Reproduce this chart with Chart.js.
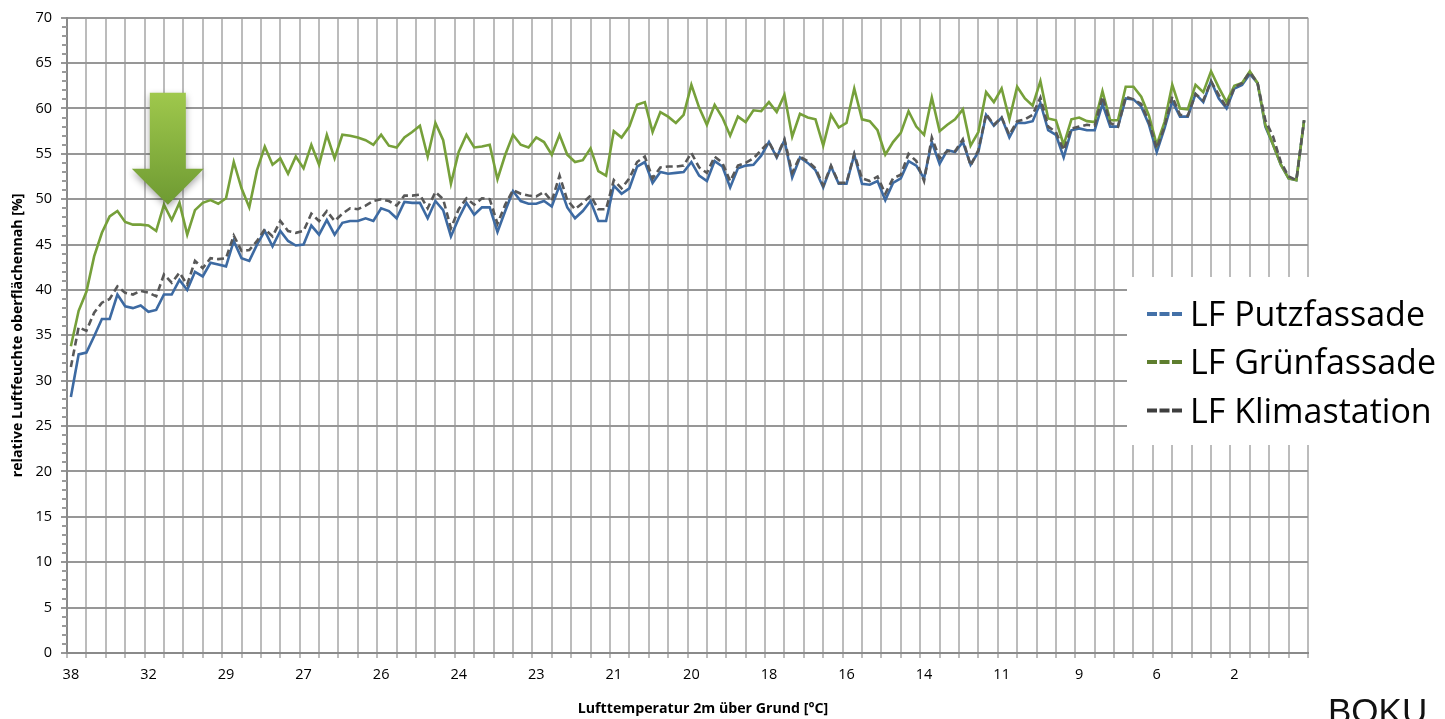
<!DOCTYPE html>
<html>
<head>
<meta charset="utf-8">
<script src="https://cdn.jsdelivr.net/npm/chart.js@4.4.1/dist/chart.umd.min.js"></script>
<style>
  html, body { margin: 0; padding: 0; background: #ffffff; }
  #wrap { position: relative; width: 1445px; height: 719px; }
</style>
</head>
<body>
<div id="wrap"><canvas id="c" width="1445" height="719"></canvas></div>
<script>
// Temperature labels shown on the x axis (one every 10 measurements, warm to cold)
const tickLabels = ['38','32','29','27','26','24','23','21','20','18','16','14','11','9','6','2'];
const labelEvery = 10;

// Relative humidity close to the surface [%]
const putzfassade = [
  28.2,32.9,33.1,34.9,36.8,36.8,39.5,38.2,38.0,38.3,
  37.6,37.8,39.5,39.5,41.1,40.0,42.0,41.5,43.0,42.8,
  42.6,45.4,43.5,43.2,45.0,46.5,44.8,46.5,45.4,44.9,
  45.0,47.1,46.1,47.7,46.1,47.4,47.6,47.6,47.9,47.6,
  49.0,48.7,47.9,49.7,49.6,49.6,47.9,49.8,48.8,45.9,
  47.9,49.6,48.3,49.1,49.1,46.4,48.7,50.9,49.8,49.5,
  49.5,49.8,49.2,51.5,49.1,47.9,48.7,49.8,47.6,47.6,
  51.5,50.6,51.2,53.6,54.1,51.8,53.0,52.8,52.9,53.0,
  54.1,52.6,52.0,54.2,53.6,51.3,53.4,53.7,53.8,54.8,
  56.3,54.6,56.5,52.4,54.6,54.0,53.2,51.3,53.6,51.7,
  51.7,54.9,51.7,51.6,52.0,49.9,51.8,52.3,54.2,53.7,
  52.3,56.3,53.9,55.4,55.2,56.3,53.8,55.2,59.3,58.1,
  59.0,56.8,58.4,58.4,58.6,60.6,57.6,57.1,54.6,57.6,
  57.8,57.6,57.6,60.5,58.0,58.0,61.1,61.0,60.2,58.2,
  55.2,57.8,60.8,59.1,59.1,61.6,60.7,63.0,61.1,60.0,
  62.2,62.6,63.8,62.8,58.0,56.0,53.8,52.3,52.1,58.7
];
const gruenfassade = [
  33.8,37.7,39.8,43.7,46.3,48.1,48.7,47.5,47.2,47.2,
  47.1,46.5,49.4,47.7,49.6,46.1,48.8,49.6,49.9,49.5,
  50.1,54.1,51.2,49.1,53.2,55.8,53.8,54.5,52.8,54.7,
  53.4,56.0,53.8,57.1,54.5,57.1,57.0,56.8,56.5,56.0,
  57.1,55.9,55.7,56.8,57.4,58.1,54.7,58.4,56.5,51.7,
  55.2,57.1,55.7,55.8,56.0,52.2,54.9,57.1,56.0,55.7,
  56.8,56.3,54.9,57.1,54.9,54.1,54.3,55.6,53.1,52.6,
  57.5,56.8,58.0,60.4,60.7,57.4,59.6,59.1,58.4,59.3,
  62.6,60.1,58.2,60.4,59.0,57.0,59.1,58.5,59.8,59.7,
  60.7,59.6,61.5,56.9,59.4,59.0,58.8,55.9,59.3,57.9,
  58.4,62.2,58.8,58.6,57.6,54.9,56.3,57.3,59.7,58.0,
  57.1,61.2,57.5,58.2,58.8,59.9,55.9,57.4,61.8,60.7,
  62.2,58.8,62.4,61.1,60.3,63.0,58.9,58.7,56.0,58.8,
  59.0,58.6,58.5,61.9,58.7,58.7,62.4,62.4,61.3,59.2,
  56.0,58.5,62.6,60.0,59.9,62.6,61.8,64.1,62.3,60.7,
  62.5,62.8,64.1,62.8,58.2,56.0,53.8,52.3,52.1,58.7
];
const klimastation = [
  31.5,35.9,35.5,37.5,38.6,39.0,40.4,39.7,39.5,39.9,
  39.7,39.3,41.7,40.8,41.9,40.6,43.2,42.4,43.5,43.4,
  43.5,46.0,44.3,44.4,45.4,46.7,45.9,47.6,46.5,46.3,
  46.5,48.4,47.6,48.7,47.6,48.4,49.0,48.9,49.3,49.8,
  50.0,49.8,49.3,50.4,50.4,50.5,49.0,50.8,50.0,46.8,
  48.9,50.1,49.4,50.1,50.0,47.3,49.4,51.0,50.6,50.4,
  50.3,50.8,49.8,52.6,49.9,48.9,49.6,50.4,48.9,48.9,
  52.1,51.2,52.3,54.1,54.7,52.3,53.5,53.6,53.6,53.7,
  55.1,53.5,52.9,54.7,54.0,52.0,53.7,54.0,54.5,55.4,
  56.3,54.7,56.6,52.9,54.7,54.2,53.4,51.5,53.7,51.8,
  51.8,55.0,52.3,52.0,52.5,50.6,52.3,52.7,55.0,54.2,
  52.0,56.8,54.5,55.3,55.3,56.6,53.7,55.4,59.4,58.2,
  59.0,57.1,58.6,58.8,59.3,61.2,58.0,57.4,55.4,57.8,
  58.0,58.2,58.1,61.3,58.4,58.0,61.3,61.0,60.5,58.5,
  55.6,58.0,61.3,59.3,59.2,61.6,60.9,63.0,61.5,60.1,
  62.3,62.8,64.0,62.8,58.7,56.9,54.1,52.5,52.1,58.7
];

const seriesNames = ['LF Putzfassade', 'LF Grünfassade', 'LF Klimastation'];
const yTitle = 'relative Luftfeuchte oberflächennah [%]';
const xTitle = 'Lufttemperatur 2m über Grund [°C]';
const footerText = 'BOKU';

const toPoints = arr => arr.map((v, i) => ({ x: i, y: v }));
const nPoints = putzfassade.length;
const gridStep = 2.5;        // vertical grid spacing in measurements
const FONT = '"Open Sans", "DejaVu Sans", sans-serif';

// Minor ticks on the value axis, title texts, legend, arrow and footer
const decorPlugin = {
  id: 'decor',
  afterDraw(chart) {
    const ctx = chart.ctx;
    const ys = chart.scales.y, xs = chart.scales.x;
    const area = chart.chartArea;
    ctx.save();

    // minor ticks (every 1 %)
    ctx.strokeStyle = '#9a9a9a';
    ctx.lineWidth = 2;
    for (let v = ys.min; v <= ys.max; v += 1) {
      if (v % 5 === 0) continue;
      const py = Math.round(ys.getPixelForValue(v));
      ctx.beginPath();
      ctx.moveTo(area.left - 5, py);
      ctx.lineTo(area.left, py);
      ctx.stroke();
    }

    // axis titles
    ctx.fillStyle = '#000';
    ctx.font = 'bold 14.2px ' + FONT;
    ctx.textAlign = 'center';
    ctx.textBaseline = 'middle';
    ctx.fillText(xTitle, 703, 709);
    ctx.save();
    ctx.translate(18, (area.top + area.bottom) / 2);
    ctx.rotate(-Math.PI / 2);
    ctx.fillText(yTitle, 0, 0);
    ctx.restore();

    // arrow pointing at the green curve
    const tipX = xs.getPixelForValue(12.5);
    const tipY = ys.getPixelForValue(49.4);
    const headH = 36, headW = 36, shaftW = 18, shaftTop = tipY - 112;
    ctx.save();
    ctx.shadowColor = 'rgba(0,0,0,0.35)';
    ctx.shadowBlur = 7;
    ctx.shadowOffsetY = 3;
    const grad = ctx.createLinearGradient(0, shaftTop, 0, tipY);
    grad.addColorStop(0, '#9fc84c');
    grad.addColorStop(1, '#6e9a32');
    ctx.fillStyle = grad;
    ctx.beginPath();
    ctx.moveTo(tipX - shaftW, shaftTop);
    ctx.lineTo(tipX + shaftW, shaftTop);
    ctx.lineTo(tipX + shaftW, tipY - headH);
    ctx.lineTo(tipX + headW, tipY - headH);
    ctx.lineTo(tipX, tipY);
    ctx.lineTo(tipX - headW, tipY - headH);
    ctx.lineTo(tipX - shaftW, tipY - headH);
    ctx.closePath();
    ctx.fill();
    ctx.restore();

    // legend box
    ctx.fillStyle = '#ffffff';
    ctx.fillRect(1127, 277, 1445 - 1127, 168);
    const rowBase = [326, 374, 422.5];
    const legendColors = ['#4471a8', '#5e7e2e', '#3e3e3e'];
    ctx.font = '34px ' + FONT;
    ctx.textAlign = 'left';
    ctx.textBaseline = 'alphabetic';
    chart.data.datasets.forEach((ds, i) => {
      const by = rowBase[i];
      ctx.strokeStyle = legendColors[i];
      ctx.lineWidth = 4;
      ctx.setLineDash([10, 2.5]);
      ctx.beginPath();
      ctx.moveTo(1147, by - 12);
      ctx.lineTo(1183, by - 12);
      ctx.stroke();
      ctx.setLineDash([]);
      ctx.fillStyle = '#000';
      ctx.fillText(ds.label, 1190, by);
    });

    // footer
    ctx.font = '35px "Liberation Sans", Arial, sans-serif';
    ctx.fillStyle = '#111';
    ctx.fillText(footerText, 1328, 723);
    ctx.restore();
  }
};

const gridTicks = [];
for (let k = 0; k * gridStep - 0.5 <= nPoints - 0.5 + 1e-9; k++) gridTicks.push(k * gridStep - 0.5);
const labelTicks = tickLabels.map((_, i) => i * labelEvery);
const isLabelTick = v => Number.isInteger(v) && v % labelEvery === 0;

new Chart(document.getElementById('c'), {
  type: 'line',
  data: {
    datasets: [
      { label: seriesNames[0], data: toPoints(putzfassade), borderColor: '#3d6aa2', borderWidth: 2.6, order: 3 },
      { label: seriesNames[1], data: toPoints(gruenfassade), borderColor: '#76a03a', borderWidth: 2.6, order: 2 },
      { label: seriesNames[2], data: toPoints(klimastation), borderColor: '#585858', borderWidth: 2.6, borderDash: [7, 4], order: 1 }
    ]
  },
  options: {
    responsive: false,
    animation: false,
    devicePixelRatio: 1,
    layout: { padding: { top: 15, right: 137, left: 0, bottom: 0 } },
    elements: { point: { radius: 0 }, line: { tension: 0 } },
    plugins: { legend: { display: false }, tooltip: { enabled: false } },
    scales: {
      x: {
        type: 'linear',
        min: -0.5,
        max: nPoints - 0.5,
        afterBuildTicks: s => {
          s.ticks = gridTicks.concat(labelTicks).sort((a, b) => a - b).map(v => ({ value: v }));
        },
        afterFit: s => { s.height = 66; },
        ticks: {
          autoSkip: false,
          maxRotation: 0,
          minRotation: 0,
          padding: 8,
          color: '#000',
          font: { family: FONT, size: 14.5 },
          callback: v => isLabelTick(v) ? tickLabels[v / labelEvery] : ''
        },
        grid: {
          color: c => (c.tick && isLabelTick(c.tick.value)) ? 'rgba(0,0,0,0)' : '#bcbcbc',
          lineWidth: 2,
          tickLength: 5
        },
        border: { color: '#8a8a8a', width: 2 }
      },
      y: {
        min: 0,
        max: 70,
        afterFit: s => { s.width = 67; },
        ticks: {
          stepSize: 5,
          padding: 9,
          color: '#000',
          font: { family: FONT, size: 14.5 }
        },
        grid: { color: '#979797', lineWidth: 2, tickLength: 6 },
        border: { color: '#8a8a8a', width: 2 }
      }
    }
  },
  plugins: [decorPlugin]
});
</script>
</body>
</html>
